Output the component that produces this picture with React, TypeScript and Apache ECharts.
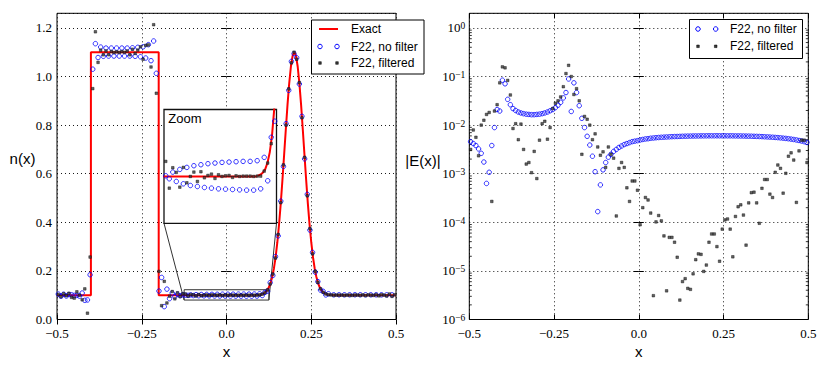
import React, { useEffect, useRef } from 'react';
import * as echarts from 'echarts';

// ---------- data ----------
// cell-centred sample grid (128 cells on [-0.5, 0.5])
const N_CELLS = 128;
const X_GRID: number[] = Array.from({ length: N_CELLS }, (_, i) => -0.5 + (i + 0.5) / N_CELLS);

// exact profile n(x)
const EXACT_X = [
  -0.5, -0.4, -0.4, -0.2, -0.2, 0.08, 0.09, 0.095, 0.1, 0.105,
  0.11, 0.115, 0.12, 0.125, 0.13, 0.135, 0.14, 0.145, 0.15, 0.155,
  0.16, 0.165, 0.17, 0.175, 0.18, 0.185, 0.19, 0.195, 0.2, 0.205,
  0.21, 0.215, 0.22, 0.225, 0.23, 0.235, 0.24, 0.245, 0.25, 0.255,
  0.26, 0.265, 0.27, 0.275, 0.28, 0.285, 0.29, 0.295, 0.3, 0.31,
  0.32, 0.5,
];
const EXACT_Y = [
  0.1, 0.1, 1.1, 1.1, 0.1, 0.1, 0.1006, 0.1012, 0.1022, 0.1041,
  0.1072, 0.1122, 0.1202, 0.1324, 0.150, 0.176, 0.211, 0.258, 0.318, 0.391,
  0.477, 0.574, 0.678, 0.783, 0.884, 0.972, 1.041, 1.085, 1.1, 1.085,
  1.041, 0.972, 0.884, 0.783, 0.678, 0.574, 0.477, 0.391, 0.318, 0.258,
  0.211, 0.176, 0.150, 0.1324, 0.1202, 0.1122, 0.1072, 0.1041, 0.1022, 0.1005,
  0.1, 0.1,
];

// n(x), F22 without filter (null = not drawn)
const LEFT_NOFILTER: (number | null)[] = [
  0.1046, 0.0958, 0.1038, 0.0968, 0.1026, 0.1017, 0.0994, 0.0989, 0.0962, 0.1089,
  0.079, 0.0805, 0.184, 1.03, 1.135, 1.078, 1.121, 1.083, 1.117, 1.084,
  1.117, 1.084, 1.117, 1.084, 1.117, 1.084, 1.117, 1.084, 1.118, 1.083,
  1.12, 1.081, 1.122, 1.076, 1.131, 1.065, 1.146, 1.013, 0.117, 0.173,
  0.053, 0.125, 0.086, 0.109, 0.0941, 0.1039, 0.0977, 0.1011, 0.1002, 0.0993,
  0.1013, 0.0985, 0.1021, 0.0978, 0.1027, 0.0973, 0.1032, 0.0970, 0.1035, 0.0967,
  0.1038, 0.0965, 0.1040, 0.0963, 0.1042, 0.0962, 0.1043, 0.0961, 0.1044, 0.0960,
  0.1045, 0.0959, 0.1045, 0.0959, 0.1047, 0.0963, 0.1057, 0.0987, 0.1117, 0.1165,
  0.152, 0.181, 0.259, 0.344, 0.487, 0.630, 0.806, 0.943, 1.062, 1.094,
  1.077, 0.969, 0.836, 0.661, 0.515, 0.368, 0.276, 0.195, 0.156, 0.121,
  0.116, 0.101, 0.106, null, 0.1015, null, 0.1016, null, 0.1016, null,
  0.1017, null, 0.1017, null, 0.1017, null, 0.1017, null, 0.1016, null,
  0.1016, null, 0.1015, null, 0.1014, null, 0.1013, null,
];

// n(x), F22 filtered
const LEFT_FILTERED = [
  0.103, 0.094, 0.106, 0.098, 0.108, 0.091, 0.088, 0.114, 0.100, 0.081,
  0.126, 0.026, 0.257, 0.950, 1.184, 1.058, 1.1085, 1.0893, 1.105, 1.0895,
  1.1032, 1.0984, 1.1017, 1.099, 1.1029, 1.0992, 1.1049, 1.0893, 1.112, 1.0949,
  1.1089, 1.122, 1.071, 1.128, 1.13, 1.039, 1.213, 0.931, 0.198, 0.057,
  0.157, 0.068, 0.096, 0.115, 0.085, 0.110, 0.095, 0.1055, 0.1045, 0.0965,
  0.1026, 0.1012, 0.0968, 0.1027, 0.0981, 0.1000, 0.1013, 0.0985, 0.1014, 0.0996,
  0.1003, 0.1007, 0.0994, 0.1005, 0.1000, 0.1002, 0.1003, 0.0997, 0.1002, 0.1000,
  0.1001, 0.1001, 0.1001, 0.1000, 0.1001, 0.1001, 0.1016, 0.1040, 0.1098, 0.1218,
  0.146, 0.187, 0.253, 0.350, 0.481, 0.636, 0.800, 0.949, 1.056, 1.100,
  1.071, 0.975, 0.830, 0.667, 0.509, 0.374, 0.270, 0.198, 0.153, 0.126,
  0.112, 0.105, 0.102, 0.1009, 0.1003, 0.1003, 0.1004, 0.1004, 0.0998, 0.1001,
  0.1005, 0.0992, 0.1008, 0.1004, 0.0997, 0.1011, 0.0985, 0.1013, 0.1004, 0.0990,
  0.1023, 0.0973, 0.1019, 0.1003, 0.0970, 0.1049, 0.0951, 0.1017,
];

// |E(x)|, F22 without filter
const RIGHT_NOFILTER = [
  4.57e-3, 4.17e-3, 3.80e-3, 3.24e-3, 2.63e-3, 1.74e-3, 6.31e-4, 1.07e-3, 3.80e-3, 8.91e-3,
  2.09e-2, 1.95e-2, 8.4e-2, 7.08e-2, 3.39e-2, 2.63e-2, 2.19e-2, 2.0e-2, 1.86e-2, 1.78e-2,
  1.72e-2, 1.68e-2, 1.66e-2, 1.64e-2, 1.64e-2, 1.66e-2, 1.68e-2, 1.72e-2, 1.78e-2, 1.86e-2,
  1.97e-2, 2.09e-2, 2.29e-2, 2.57e-2, 2.95e-2, 3.63e-2, 4.68e-2, 8.91e-2, 1.91e-2, 7.41e-2,
  4.68e-2, 2.51e-2, 1.38e-2, 8.91e-3, 5.89e-3, 3.89e-3, 2.29e-3, 1.10e-3, 1.66e-4, 5.89e-4,
  1.20e-3, 1.70e-3, 2.19e-3, 2.51e-3, 2.88e-3, 3.16e-3, 3.47e-3, 3.72e-3, 3.98e-3, 4.17e-3,
  4.37e-3, 4.57e-3, 4.68e-3, 4.79e-3, 4.95e-3, 5.07e-3, 5.19e-3, 5.25e-3, 5.37e-3, 5.43e-3,
  5.50e-3, 5.56e-3, 5.62e-3, 5.66e-3, 5.70e-3, 5.74e-3, 5.78e-3, 5.81e-3, 5.83e-3, 5.86e-3,
  5.89e-3, 5.92e-3, 5.94e-3, 5.95e-3, 5.97e-3, 5.98e-3, 5.99e-3, 6.00e-3, 6.01e-3, 6.02e-3,
  6.02e-3, 6.03e-3, 6.03e-3, 6.03e-3, 6.03e-3, 6.03e-3, 6.03e-3, 6.02e-3, 6.02e-3, 6.01e-3,
  6.00e-3, 5.99e-3, 5.98e-3, 5.97e-3, 5.95e-3, 5.93e-3, 5.91e-3, 5.89e-3, 5.86e-3, 5.83e-3,
  5.80e-3, 5.76e-3, 5.72e-3, 5.68e-3, 5.63e-3, 5.58e-3, 5.53e-3, 5.47e-3, 5.40e-3, 5.33e-3,
  5.25e-3, 5.16e-3, 5.06e-3, 4.95e-3, 4.83e-3, 4.70e-3, 4.56e-3, 4.40e-3,
];

// |E(x)|, F22 filtered
const RIGHT_FILTERED = [
  3.16e-3, 7.94e-3, 5.62e-3, 2.34e-3, 1.0e-2, 1.26e-2, 1.66e-2, 1.82e-2, 2.69e-4, 1.95e-2,
  2.63e-2, 7.41e-2, 0.158, 0.151, 8.32e-2, 4.17e-2, 8.51e-3, 1.07e-2, 5.01e-3, 1.05e-2,
  3.16e-3, 1.58e-3, 1.70e-3, 1.05e-3, 2.88e-3, 7.94e-4, 4.90e-3, 1.07e-2, 1.20e-2, 5.13e-3,
  8.91e-3, 2.19e-2, 2.82e-2, 3.16e-2, 3.80e-2, 6.17e-2, 0.115, 0.170, 0.100, 4.27e-2,
  5.62e-2, 3.16e-2, 2.51e-3, 1.51e-2, 1.32e-2, 1.0e-2, 5.01e-3, 6.61e-3, 3.55e-3, 2.40e-3,
  2.82e-3, 1.35e-3, 3.55e-3, 2.51e-3, 2.09e-3, 1.35e-4, 1.29e-3, 1.70e-3, 1.35e-3, 5.13e-4,
  2.69e-4, 7.08e-4, 7.08e-4, 4.57e-4, 8.91e-5, 2.0e-4, 3.24e-4, 2.88e-4, 1.55e-4, 3.09e-6,
  1.02e-4, 1.38e-4, 1.07e-4, 5.25e-5, 3.89e-6, 4.90e-5, 4.90e-5, 3.89e-5, 1.91e-5, 2.51e-6,
  6.03e-6, 6.92e-6, 4.37e-6, 4.17e-6, 8.71e-6, 1.70e-5, 2.24e-5, 2.19e-5, 9.77e-6, 1.32e-5,
  3.89e-5, 5.75e-5, 5.75e-5, 3.16e-5, 1.58e-5, 7.24e-5, 1.12e-4, 1.17e-4, 7.24e-5, 1.95e-5,
  1.32e-4, 2.09e-4, 2.29e-4, 1.41e-4, 3.39e-5, 2.51e-4, 4.07e-4, 4.17e-4, 2.51e-4, 9.55e-5,
  5.01e-4, 7.59e-4, 7.59e-4, 3.80e-4, 3.24e-4, 1.07e-3, 1.51e-3, 1.29e-3, 3.98e-4, 1.02e-3,
  2.29e-3, 2.69e-3, 1.91e-3, 2.57e-4, 2.95e-3, 4.90e-3, 4.90e-3, 1.70e-3,
];

// ticks / labels
const X_TICKS = [-0.5, -0.25, 0, 0.25, 0.5];
const X_TICK_LABELS = ['\u22120.5', '\u22120.25', '0.0', '0.25', '0.5'];
const N_TICK_STEP = 0.2;
const N_TICK_LABELS = ['0.0', '0.2', '0.4', '0.6', '0.8', '1.0', '1.2'];
const N_RANGE = [0, 1.26];
const E_RANGE = [1e-6, 2];
const LEGEND_LEFT = ['Exact', 'F22, no filter', 'F22, filtered'];
const LEGEND_RIGHT = ['F22, no filter', 'F22, filtered'];
const ZOOM_X = [-0.125, 0.125];
const ZOOM_Y = [0.086, 0.12];
const MARK_BOX_Y = [0.08, 0.1225];

// ---------- styling ----------
const SERIF = "'Liberation Serif', 'DejaVu Serif', serif";
const SANS = "'Liberation Sans', Arial, sans-serif";
const RED = '#ff0000';
const BLUE = '#0000ff';
const SQ_FILL = '#3a3a3a';
const SQ_SIZE = 2.6;
const DOTTED = { type: [1, 3] as any, color: '#000', width: 0.9 };

const pairs = (xs: number[], ys: (number | null)[]) =>
  ys.map((y, i) => (y == null ? null : [xs[i], y])).filter((p) => p !== null) as number[][];

const xFmt = (v: number) => {
  const k = X_TICKS.findIndex((t) => Math.abs(t - v) < 1e-9);
  return k >= 0 ? X_TICK_LABELS[k] : '';
};
const nFmt = (v: number) => {
  const k = Math.round(v / N_TICK_STEP);
  return Math.abs(v - k * N_TICK_STEP) < 1e-9 && k < N_TICK_LABELS.length ? N_TICK_LABELS[k] : '';
};
const logFmt = (v: number) => {
  const e = Math.log10(v);
  const r = Math.round(e);
  if (Math.abs(e - r) > 1e-6) return '';
  return `{b|10}{s|${r < 0 ? '\u2212' : ''}${Math.abs(r)}}`;
};

const tickStyle = { show: true, inside: true, length: 5, lineStyle: { color: '#000', width: 1 } };

function xAxesFor(gridIndex: number) {
  const base = {
    type: 'value', gridIndex, min: -0.5, max: 0.5, interval: 0.25,
    axisLine: { show: false }, axisTick: tickStyle,
  };
  return [
    { ...base, position: 'bottom',
      axisLabel: { show: true, formatter: xFmt, color: '#000', fontFamily: SERIF, fontSize: 13, margin: 7 },
      splitLine: { show: true, lineStyle: DOTTED } },
    { ...base, position: 'top', axisLabel: { show: false }, splitLine: { show: false } },
  ];
}

const blueStyle = { color: 'rgba(0,0,0,0)', borderColor: BLUE, borderWidth: 1 };
const blackStyle = { color: SQ_FILL, borderColor: '#000', borderWidth: 0.5 };

// axis order: x: [0 L-bottom, 1 L-top, 2 R-bottom, 3 R-top, 4 inset]; y: [0 L-left, 1 L-right, 2 R-left, 3 R-right, 4 inset]
function buildOption(): any {
  const minorTicks: number[][] = [];
  for (let k = -6; k < 0; k++) {
    for (let m = 2; m <= 9; m++) minorTicks.push([0, Number((m * Math.pow(10, k)).toPrecision(3))]);
  }

  const nAxisBase = {
    type: 'value', gridIndex: 0, min: N_RANGE[0], max: N_RANGE[1], interval: N_TICK_STEP,
    axisLine: { show: false }, axisTick: tickStyle,
  };
  const eAxisBase = {
    type: 'log', logBase: 10, gridIndex: 1, min: E_RANGE[0], max: E_RANGE[1],
    axisLine: { show: false }, axisTick: tickStyle,
  };

  return {
    animation: false,
    backgroundColor: '#fff',
    grid: [
      { left: 57, top: 13.3, width: 339, height: 306.2, show: true, borderColor: '#000', borderWidth: 1, backgroundColor: 'transparent' },
      { left: 469.3, top: 13.3, width: 339, height: 306.2, show: true, borderColor: '#000', borderWidth: 1, backgroundColor: 'transparent' },
      { left: 164, top: 109.5, width: 112.5, height: 113.8, show: true, borderColor: '#111', borderWidth: 1.3, backgroundColor: '#fff', z: 5 },
    ],
    xAxis: [
      ...xAxesFor(0),
      ...xAxesFor(1),
      { type: 'value', gridIndex: 2, min: ZOOM_X[0], max: ZOOM_X[1], show: false },
    ],
    yAxis: [
      { ...nAxisBase, position: 'left',
        axisLabel: { formatter: nFmt, color: '#000', fontFamily: SERIF, fontSize: 13, margin: 5 },
        splitLine: { show: true, lineStyle: DOTTED } },
      { ...nAxisBase, position: 'right', axisLabel: { show: false }, splitLine: { show: false } },
      { ...eAxisBase, position: 'left',
        axisLabel: {
          formatter: logFmt, color: '#000', margin: 4,
          rich: {
            b: { fontFamily: SERIF, fontSize: 13, lineHeight: 13, padding: [3, 0, 0, 0], verticalAlign: 'bottom', color: '#000' },
            s: { fontFamily: SERIF, fontSize: 9.5, lineHeight: 10, verticalAlign: 'top', color: '#000' },
          },
        },
        splitLine: { show: true, lineStyle: DOTTED } },
      { ...eAxisBase, position: 'right', axisLabel: { show: false }, splitLine: { show: false } },
      { type: 'value', gridIndex: 2, min: ZOOM_Y[0], max: ZOOM_Y[1], show: false },
    ],
    series: [
      // zoom marker box on main plot
      { type: 'line', xAxisIndex: 0, yAxisIndex: 0, silent: true, symbol: 'none', z: 1,
        data: [[ZOOM_X[0], MARK_BOX_Y[0]], [ZOOM_X[1], MARK_BOX_Y[0]], [ZOOM_X[1], MARK_BOX_Y[1]], [ZOOM_X[0], MARK_BOX_Y[1]], [ZOOM_X[0], MARK_BOX_Y[0]]],
        lineStyle: { color: '#333', width: 1 } },
      // left main
      { type: 'line', name: LEGEND_LEFT[0], xAxisIndex: 0, yAxisIndex: 0, silent: true, symbol: 'none', z: 2,
        data: pairs(EXACT_X, EXACT_Y), lineStyle: { color: RED, width: 2 } },
      { type: 'scatter', name: LEGEND_LEFT[1], xAxisIndex: 0, yAxisIndex: 0, silent: true, z: 3,
        symbol: 'circle', symbolSize: 4.5, data: pairs(X_GRID, LEFT_NOFILTER), itemStyle: blueStyle },
      { type: 'scatter', name: LEGEND_LEFT[2], xAxisIndex: 0, yAxisIndex: 0, silent: true, z: 4,
        symbol: 'rect', symbolSize: SQ_SIZE, data: pairs(X_GRID, LEFT_FILTERED), itemStyle: blackStyle },
      // inset (same data, zoomed axes)
      { type: 'line', xAxisIndex: 4, yAxisIndex: 4, silent: true, symbol: 'none', z: 6, clip: true,
        data: pairs(EXACT_X, EXACT_Y), lineStyle: { color: RED, width: 2 } },
      { type: 'scatter', xAxisIndex: 4, yAxisIndex: 4, silent: true, z: 7, clip: true,
        symbol: 'circle', symbolSize: 4.5, data: pairs(X_GRID, LEFT_NOFILTER), itemStyle: blueStyle },
      { type: 'scatter', xAxisIndex: 4, yAxisIndex: 4, silent: true, z: 8, clip: true,
        symbol: 'rect', symbolSize: SQ_SIZE, data: pairs(X_GRID, LEFT_FILTERED), itemStyle: blackStyle },
      // right
      { type: 'scatter', name: LEGEND_RIGHT[0], xAxisIndex: 2, yAxisIndex: 2, silent: true, z: 3,
        symbol: 'circle', symbolSize: 4.5, data: pairs(X_GRID, RIGHT_NOFILTER), itemStyle: blueStyle },
      { type: 'scatter', name: LEGEND_RIGHT[1], xAxisIndex: 2, yAxisIndex: 2, silent: true, z: 4,
        symbol: 'rect', symbolSize: SQ_SIZE, data: pairs(X_GRID, RIGHT_FILTERED), itemStyle: blackStyle },
      // minor log ticks (left and right edges)
      { type: 'custom', xAxisIndex: 2, yAxisIndex: 2, silent: true, z: 1, data: minorTicks,
        renderItem: (params: any, api: any) => {
          const cs = params.coordSys;
          const y = api.coord([0, api.value(1)])[1];
          const st = { stroke: '#000', lineWidth: 0.8 };
          return {
            type: 'group',
            children: [
              { type: 'line', shape: { x1: cs.x, y1: y, x2: cs.x + 2.5, y2: y }, style: st },
              { type: 'line', shape: { x1: cs.x + cs.width - 2.5, y1: y, x2: cs.x + cs.width, y2: y }, style: st },
            ],
          };
        } },
    ],
  };
}

function legendBox(x: number, y: number, w: number, h: number) {
  return { type: 'rect', z: 30, shape: { x, y, width: w, height: h }, style: { fill: '#fff', stroke: '#000', lineWidth: 1 } };
}
function txt(text: string, x: number, y: number, size: number, align = 'left', family = SANS) {
  return { type: 'text', z: 31, x, y, style: { text, fontSize: size, fontFamily: family, fill: '#000', align, verticalAlign: 'middle' } };
}
function circ(cx: number, cy: number) {
  return { type: 'circle', z: 31, shape: { cx, cy, r: 2.25 }, style: { fill: 'none', stroke: BLUE, lineWidth: 1 } };
}
function sq(cx: number, cy: number) {
  const h = SQ_SIZE / 2;
  return { type: 'rect', z: 31, shape: { x: cx - h, y: cy - h, width: SQ_SIZE, height: SQ_SIZE }, style: { fill: SQ_FILL, stroke: '#000', lineWidth: 0.5 } };
}

export default function App() {
  const ref = useRef<HTMLDivElement>(null);
  useEffect(() => {
    if (!ref.current) return;
    const chart = echarts.init(ref.current, undefined, { renderer: 'svg' });
    chart.setOption(buildOption());

    const insetBL = chart.convertToPixel({ xAxisIndex: 4, yAxisIndex: 4 } as any, [ZOOM_X[0], ZOOM_Y[0]]) as any;
    const insetBR = chart.convertToPixel({ xAxisIndex: 4, yAxisIndex: 4 } as any, [ZOOM_X[1], ZOOM_Y[0]]) as any;
    const boxBL = chart.convertToPixel({ xAxisIndex: 0, yAxisIndex: 0 } as any, [ZOOM_X[0], MARK_BOX_Y[0]]) as any;
    const boxBR = chart.convertToPixel({ xAxisIndex: 0, yAxisIndex: 0 } as any, [ZOOM_X[1], MARK_BOX_Y[0]]) as any;
    const conn = { stroke: '#333', lineWidth: 1 };

    const graphic: any[] = [
      { type: 'line', z: 1, shape: { x1: insetBL[0], y1: insetBL[1], x2: boxBL[0], y2: boxBL[1] }, style: conn },
      { type: 'line', z: 1, shape: { x1: insetBR[0], y1: insetBR[1], x2: boxBR[0], y2: boxBR[1] }, style: conn },
      txt('Zoom', 168.3, 118, 13),
      // left legend
      legendBox(311.5, 20, 112.5, 54),
      { type: 'line', z: 31, shape: { x1: 319, y1: 29, x2: 338, y2: 29 }, style: { stroke: RED, lineWidth: 2 } },
      txt(LEGEND_LEFT[0], 351, 29, 12),
      circ(320, 46.5), circ(337, 46.5),
      txt(LEGEND_LEFT[1], 351, 46.5, 12),
      sq(320, 63), sq(337, 63),
      txt(LEGEND_LEFT[2], 351, 63, 12),
      // right legend
      legendBox(689.5, 19.5, 113, 39),
      circ(698, 29), circ(715.7, 29),
      txt(LEGEND_RIGHT[0], 730, 29, 12),
      sq(698, 46.3), sq(715.7, 46.3),
      txt(LEGEND_RIGHT[1], 730, 46.3, 12),
      // axis titles
      txt('n(x)', 22.5, 158.5, 15, 'center'),
      txt('x', 226.5, 351, 15, 'center'),
      txt('|E(x)|', 423, 160, 15, 'center'),
      txt('x', 638.7, 351, 15, 'center'),
    ];
    chart.setOption({ graphic });
    return () => chart.dispose();
  }, []);
  return <div ref={ref} style={{ position: 'absolute', left: 0, top: 0, width: 830, height: 373 }} />;
}
